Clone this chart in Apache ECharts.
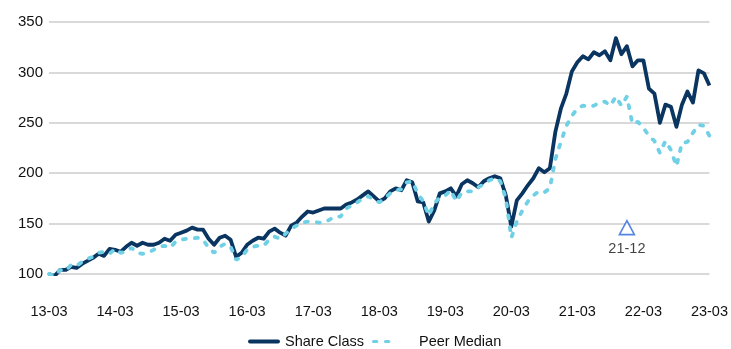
<!DOCTYPE html>
<html>
<head>
<meta charset="utf-8">
<script src="https://cdn.jsdelivr.net/npm/echarts@6/dist/echarts.min.js"></script>
<style>
  html, body { margin: 0; padding: 0; background: #fff; }
  #myChart { width: 731px; height: 349px; }
</style>
</head>
<body>
<div id="myChart"></div>
<script>
// monthly points, 13-03 .. 23-03
var months = [];
for (var y = 13; y <= 23; y++) {
  for (var m = 1; m <= 12; m++) {
    if ((y === 13 && m < 3) || (y === 23 && m > 3)) continue;
    months.push(y + "-" + (m < 10 ? "0" + m : m));
  }
}

var shareClass = [
  100, 98, 104, 104, 107, 106, 110, 113, 116, 120, 118, 125,
  124, 122, 127, 131, 128, 131, 129, 129, 131, 135, 133, 139,
  141, 143, 146, 144, 144, 135, 129, 136, 138, 134, 117, 121,
  129, 133, 136, 135, 142, 145, 141, 138, 148, 151, 157, 162,
  161, 163, 165, 165, 165, 165, 169, 171, 174, 178, 182, 177,
  172, 175, 182, 185, 183, 193, 191, 172, 171, 152, 163, 180,
  182, 185, 177, 189, 193, 190, 186, 192, 195, 197, 195, 178,
  147, 173, 180, 188, 195, 205, 201, 205, 241, 264, 279, 301,
  310, 316, 313, 320, 317, 321, 312, 334, 318, 326, 306, 312,
  312, 284, 279, 250, 268, 266, 246, 268, 281, 270, 302, 299,
  287
];

var peerMedian = [
  100, 98, 104, 103, 109, 108, 112, 115, 117, 121, 122, 120,
  125, 121, 122, 126, 121, 120, 121, 124, 127, 128, 126, 132,
  134, 135, 135, 136, 134, 126, 121, 127, 130, 127, 114, 117,
  124, 127, 128, 128, 134, 137, 135, 140, 145, 148, 151, 152,
  152, 151, 151, 154, 157, 157, 165, 168, 171, 175, 177, 174,
  171, 175, 180, 183, 184, 191, 192, 180, 172, 158, 170, 176,
  178, 183, 172, 181, 182, 182, 186, 189, 193, 195, 192, 175,
  136, 152, 163, 172, 178, 182, 181, 185, 214, 231, 247, 257,
  264, 267, 266, 267, 270, 271, 267, 276, 267, 276, 249, 251,
  245, 237, 232, 220, 232, 223, 207, 230, 231, 240, 248, 247,
  237
];

var markerCat = "21-12";
var markerValue = 146;

var navy = "#0b3561";
var cyan = "#6fd0e6";
var font = "'Liberation Sans', Arial, sans-serif";

var mycharts = echarts.init(document.getElementById("myChart"));
var option = {
  animation: false,
  textStyle: { fontFamily: font },
  grid: { left: 49, right: 20, top: 22, bottom: 75 },
  legend: {
    top: 329,
    left: 243,
    itemWidth: 32,
    itemHeight: 4,
    itemGap: 8,
    textStyle: { fontSize: 14.5, color: "#111", fontFamily: font },
    data: [
      {
        name: "Share Class",
        icon: "path://M2,0 H30 A2,2 0 0 1 30,4 H2 A2,2 0 0 1 2,0 Z"
      },
      {
        name: "Peer Median",
        icon: "path://M2,0 H6 A2,2 0 0 1 6,4 H2 A2,2 0 0 1 2,0 Z M17,0 H21 A2,2 0 0 1 21,4 H17 A2,2 0 0 1 17,0 Z M40,2 L40,2.01 Z",
        textStyle: { padding: [0, 0, 0, 10] }
      }
    ]
  },
  xAxis: {
    type: "category",
    boundaryGap: false,
    data: months,
    axisLine: { show: false },
    axisTick: { show: false },
    axisLabel: { interval: 11, fontSize: 14.5, color: "#111", margin: 30 },
    splitLine: { show: false }
  },
  yAxis: {
    type: "value",
    min: 100,
    max: 350,
    interval: 50,
    axisLine: { show: false },
    axisTick: { show: false },
    axisLabel: { fontSize: 15, color: "#111", margin: 6 },
    splitLine: { lineStyle: { color: "#cccccc", width: 1.5 } }
  },
  series: [
    {
      name: "Share Class",
      type: "line",
      data: shareClass,
      showSymbol: false,
      symbol: "none",
      lineStyle: { color: navy, width: 3.8, join: "round" },
      itemStyle: { color: navy },
      z: 3
    },
    {
      name: "Peer Median",
      type: "line",
      data: peerMedian,
      showSymbol: false,
      symbol: "none",
      lineStyle: { color: cyan, width: 3.8, type: [3, 9], cap: "round" },
      itemStyle: { color: cyan },
      z: 4
    },
    {
      name: "marker",
      type: "scatter",
      data: [[markerCat, markerValue]],
      symbol: "triangle",
      symbolSize: [15, 14],
      itemStyle: { color: "#ffffff", borderColor: "#2c66d8", borderWidth: 1.6 },
      label: {
        show: true,
        position: "bottom",
        distance: 6,
        formatter: markerCat,
        fontSize: 14.5,
        color: "#111"
      },
      z: 5
    }
  ]
};
mycharts.setOption(option);
</script>
</body>
</html>
